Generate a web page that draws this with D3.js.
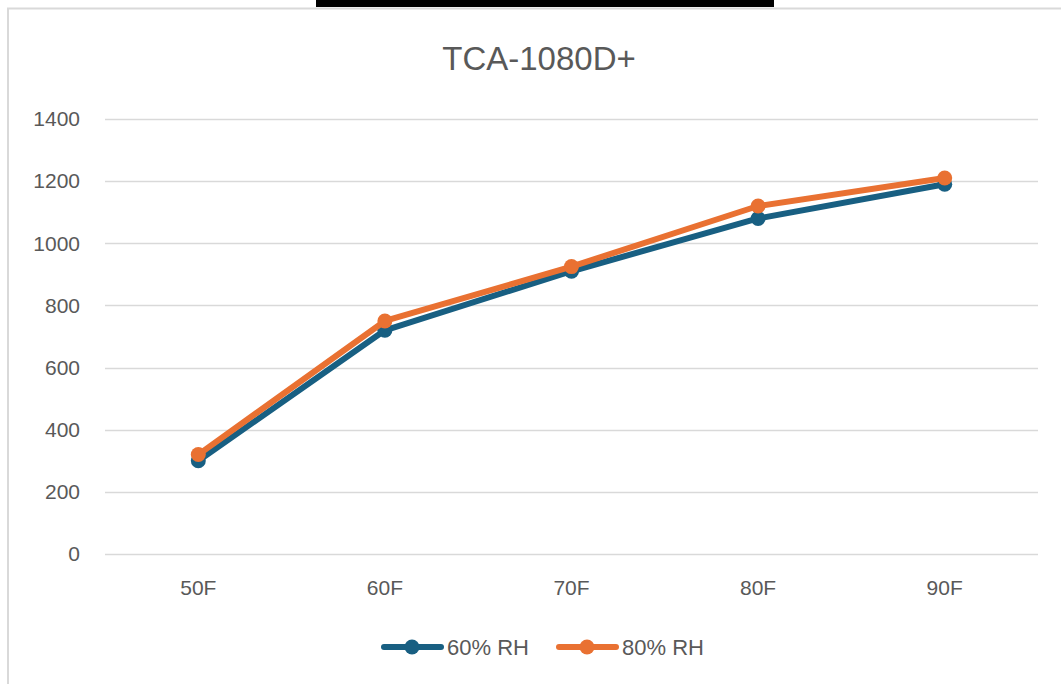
<html>
<head>
<meta charset="utf-8">
<script src="https://cdn.jsdelivr.net/npm/d3@7"></script>
<style>
  body { margin: 0; background: #fff; }
  text { font-family: "Liberation Sans", Arial, sans-serif; fill: #595959; }
</style>
</head>
<body>
<div id="chartContainer"></div>
<script type="text/javascript">

  // chart data
  var title = "TCA-1080D+";
  var categories = ["50F", "60F", "70F", "80F", "90F"];
  var seriesNames = ["60% RH", "80% RH"];
  var rh60 = [300, 720, 910, 1080, 1190];
  var rh80 = [320, 750, 925, 1120, 1210];
  var yTicks = [0, 200, 400, 600, 800, 1000, 1200, 1400];

  var colors = ["#185f82", "#e97132"];
  var seriesData = [rh60, rh80];

  var W = 1061, H = 684;
  var svg = d3.select("#chartContainer").append("svg")
      .attr("width", W).attr("height", H);

  // chart area border (top/left visible) and black bar above
  svg.append("rect").attr("x", 8).attr("y", 8.5).attr("width", W + 10).attr("height", H + 10)
    .attr("fill", "#fff").attr("stroke", "#d9d9d9").attr("stroke-width", 2);
  svg.append("rect").attr("x", 316).attr("y", 0).attr("width", 458).attr("height", 7)
    .attr("fill", "#000");

  // title
  svg.append("text")
    .attr("x", 539).attr("y", 70)
    .attr("text-anchor", "middle")
    .attr("font-size", "33px")
    .text(title);

  // scales
  var x = d3.scaleBand().domain(categories).range([105, 1038]);
  var y = d3.scaleLinear().domain([0, 1400]).range([554, 119]);

  // gridlines
  svg.append("g").selectAll("line")
    .data(yTicks).enter().append("line")
    .attr("x1", 105).attr("x2", 1038)
    .attr("y1", function(d) { return Math.round(y(d)) + 0.5; })
    .attr("y2", function(d) { return Math.round(y(d)) + 0.5; })
    .attr("stroke", "#d9d9d9").attr("stroke-width", 1.5);

  // y axis labels
  var yAxis = d3.axisLeft(y).tickValues(yTicks).tickFormat(d3.format("d")).tickSize(0).tickPadding(0);
  var gy = svg.append("g").attr("transform", "translate(80,0)").call(yAxis);
  gy.select(".domain").remove();
  gy.selectAll("text").attr("font-size", "21px").attr("fill", "#595959")
    .style("font-family", "'Liberation Sans', Arial, sans-serif");

  // x axis labels
  var xAxis = d3.axisBottom(x).tickSize(0).tickPadding(0);
  var gx = svg.append("g").attr("transform", "translate(0,588)").call(xAxis);
  gx.select(".domain").remove();
  gx.selectAll("text").attr("font-size", "21px").attr("fill", "#595959")
    .attr("y", 0).attr("dy", "0.35em")
    .style("font-family", "'Liberation Sans', Arial, sans-serif");

  // series lines + markers
  var line = d3.line()
    .x(function(d, i) { return x(categories[i]) + x.bandwidth() / 2; })
    .y(function(d) { return y(d); });

  seriesData.forEach(function(vals, s) {
    var g = svg.append("g");
    g.append("path").datum(vals)
      .attr("d", line)
      .attr("fill", "none")
      .attr("stroke", colors[s])
      .attr("stroke-width", 6)
      .attr("stroke-linejoin", "round")
      .attr("stroke-linecap", "round");
    g.selectAll("circle").data(vals).enter().append("circle")
      .attr("cx", function(d, i) { return x(categories[i]) + x.bandwidth() / 2; })
      .attr("cy", function(d) { return y(d); })
      .attr("r", 7.5)
      .attr("fill", colors[s]);
  });

  // legend
  var legendX = [381, 556];
  seriesNames.forEach(function(name, s) {
    var lg = svg.append("g").attr("transform", "translate(" + legendX[s] + ",647)");
    lg.append("line").attr("x1", 3).attr("x2", 60).attr("y1", 0).attr("y2", 0)
      .attr("stroke", colors[s]).attr("stroke-width", 6).attr("stroke-linecap", "round");
    lg.append("circle").attr("cx", 31).attr("cy", 0).attr("r", 7.5).attr("fill", colors[s]);
    lg.append("text").attr("x", 66).attr("y", 0).attr("dy", "0.35em")
      .attr("font-size", "22px").text(name);
  });
</script>
</body>
</html>
